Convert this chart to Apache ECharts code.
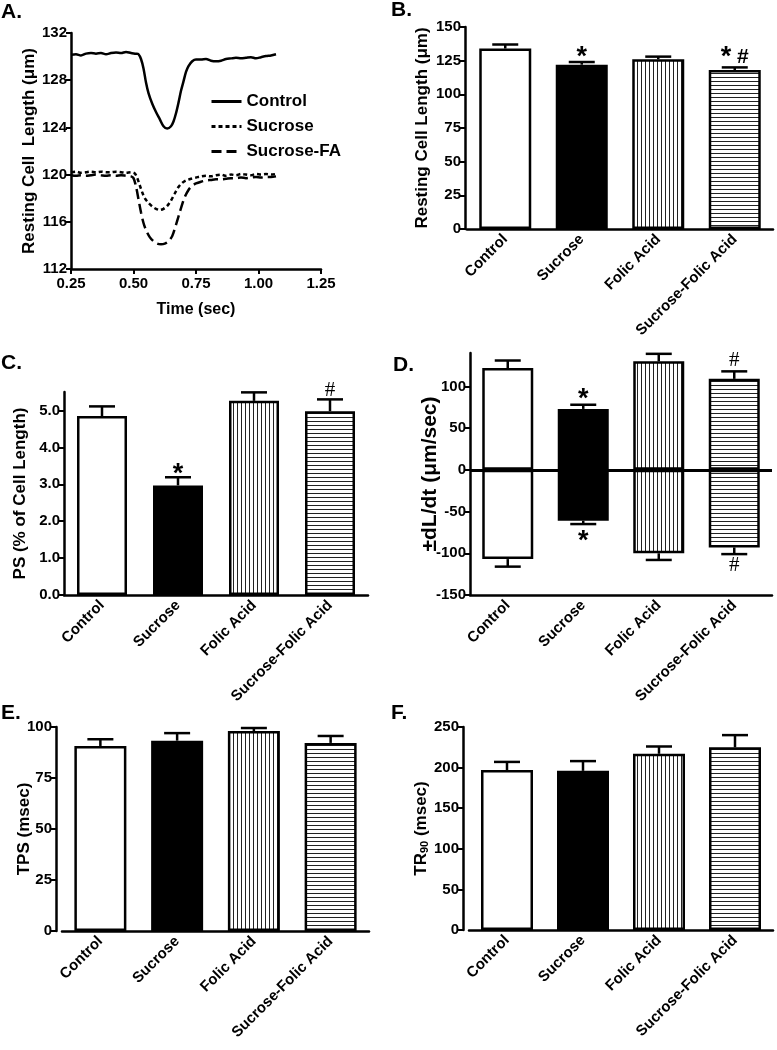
<!DOCTYPE html>
<html>
<head>
<meta charset="utf-8">
<script src="https://cdn.jsdelivr.net/npm/echarts@6/dist/echarts.min.js"></script>
<style>html,body{margin:0;padding:0;background:#fff;}#c{width:777px;height:1050px;}</style>
</head>
<body>
<div id="c"></div>
<script>
// ---------- DATA ----------
const categories = ['Control', 'Sucrose', 'Folic Acid', 'Sucrose-Folic Acid'];

// Panel A traces [time (sec), length (um)]
const traceControl = [[0.25,130.15],[0.27,130.2],[0.29,130.1],[0.31,130.25],[0.33,130.3],[0.35,130.25],[0.37,130.3],[0.39,130.2],[0.41,130.3],[0.43,130.35],[0.45,130.3],[0.47,130.4],[0.49,130.3],[0.51,130.25],[0.52,130.2],[0.53,129.8],[0.54,129.0],[0.55,127.8],[0.56,126.9],[0.575,126.0],[0.59,125.3],[0.605,124.7],[0.62,124.1],[0.635,123.9],[0.65,124.1],[0.66,124.5],[0.67,125.2],[0.68,126.1],[0.69,127.1],[0.70,127.9],[0.71,128.7],[0.72,129.2],[0.735,129.6],[0.75,129.75],[0.77,129.75],[0.79,129.8],[0.81,129.65],[0.83,129.6],[0.85,129.65],[0.87,129.8],[0.89,129.85],[0.91,129.9],[0.93,129.85],[0.95,129.9],[0.97,129.95],[0.99,129.85],[1.01,129.95],[1.03,130.05],[1.05,130.1],[1.07,130.2]];
const traceSucrose = [[0.25,120.2],[0.27,120.25],[0.29,120.15],[0.31,120.2],[0.33,120.25],[0.35,120.2],[0.37,120.25],[0.39,120.2],[0.41,120.2],[0.43,120.25],[0.45,120.2],[0.47,120.15],[0.49,120.2],[0.505,120.1],[0.515,119.7],[0.525,119.1],[0.535,118.5],[0.545,118.0],[0.56,117.6],[0.575,117.3],[0.59,117.1],[0.605,117.0],[0.62,117.1],[0.635,117.35],[0.65,117.8],[0.665,118.4],[0.68,118.95],[0.695,119.3],[0.71,119.5],[0.73,119.65],[0.75,119.75],[0.77,119.85],[0.79,119.9],[0.81,119.85],[0.83,119.95],[0.85,120.0],[0.87,119.9],[0.89,120.0],[0.91,119.95],[0.93,120.05],[0.95,120.0],[0.97,119.95],[0.99,120.05],[1.01,120.0],[1.03,120.05],[1.05,120.0],[1.07,120.05]];
const traceSucroseFA = [[0.25,119.95],[0.27,119.9],[0.29,119.95],[0.31,119.9],[0.33,119.95],[0.35,120.0],[0.37,119.95],[0.39,119.9],[0.41,119.95],[0.43,119.9],[0.45,119.95],[0.47,119.9],[0.49,119.85],[0.50,119.7],[0.51,119.0],[0.52,117.9],[0.53,116.8],[0.54,115.9],[0.55,115.3],[0.565,114.7],[0.58,114.35],[0.595,114.15],[0.61,114.1],[0.625,114.15],[0.64,114.35],[0.655,114.8],[0.665,115.4],[0.675,116.1],[0.685,116.8],[0.695,117.5],[0.705,118.1],[0.72,118.7],[0.735,119.05],[0.75,119.25],[0.77,119.4],[0.79,119.5],[0.81,119.55],[0.83,119.6],[0.85,119.6],[0.87,119.65],[0.89,119.7],[0.91,119.7],[0.93,119.75],[0.95,119.7],[0.97,119.75],[0.99,119.8],[1.01,119.75],[1.03,119.8],[1.05,119.8],[1.07,119.85]];
const aXTicks = [0.25, 0.50, 0.75, 1.00, 1.25];
const aYTicks = [112, 116, 120, 124, 128, 132];
const traceNames = ['Control', 'Sucrose', 'Sucrose-FA'];

// Panel B: resting cell length
const bValues = [134, 122, 126, 118];
const bErr = [3, 2, 2, 2];
const bMarks = ['', '*', '', '* #'];
const bTicks = [0, 25, 50, 75, 100, 125, 150];

// Panel C: PS (% of cell length)
const cValues = [4.85, 2.97, 5.26, 4.98];
const cErr = [0.26, 0.22, 0.23, 0.32];
const cMarks = ['', '*', '', '#'];
const cTicks = [0, 1, 2, 3, 4, 5];

// Panel D: +/- dL/dt
const dPos = [122, 73, 130, 109];
const dPosErr = [9, 5, 9, 9];
const dPosMarks = ['', '*', '', '#'];
const dNeg = [-107, -61, -100, -93];
const dNegErr = [9, 4, 8, 8];
const dNegMarks = ['', '*', '', '#'];
const dTicks = [-150, -100, -50, 0, 50, 100];

// Panel E: TPS (msec)
const eValues = [90.7, 93.3, 98, 92.2];
const eErr = [3.3, 3.7, 1.5, 3.4];
const eTicks = [0, 25, 50, 75, 100];

// Panel F: TR90 (msec)
const fValues = [197, 196, 217, 225];
const fErr = [10, 12, 9, 15];
const fTicks = [0, 50, 100, 150, 200, 250];

// ---------- STYLE HELPERS ----------
const FONT = 'Arial, "Liberation Sans", sans-serif';
function stripe(vertical) {
  const c = document.createElement('canvas');
  c.width = 4; c.height = 4;
  const g = c.getContext('2d');
  g.fillStyle = '#fff'; g.fillRect(0, 0, 4, 4);
  g.fillStyle = '#222';
  if (vertical) g.fillRect(1, 0, 1, 4); else g.fillRect(0, 1, 4, 1);
  return c;
}
const fills = ['#ffffff', '#000000', {image: stripe(true), repeat: 'repeat'}, {image: stripe(false), repeat: 'repeat'}];

function barData(vals) {
  return vals.map((v, i) => ({value: v, itemStyle: {color: fills[i]}}));
}

const richMarks = {
  sansHash: {s: {font: 'bold 27px ' + FONT, fill: '#000'}, h: {font: 'bold 21px ' + FONT}},
  serifHash: {s: {font: 'bold 27px ' + FONT}, h: {font: '21px "Liberation Serif", "DejaVu Serif", serif'}}
};

function errSeries(idx, vals, errs, marks, sign, markGap, richKey) {
  return {
    type: 'custom', xAxisIndex: idx, yAxisIndex: idx, z: 5,
    data: vals.map((v, i) => [i, v, errs[i]]),
    encode: {x: 0, y: 1},
    renderItem: function (params, api) {
      const i = api.value(0), v = api.value(1), e = api.value(2);
      const p0 = api.coord([i, v]);
      const p1 = api.coord([i, v + sign * e]);
      const children = [
        {type: 'line', shape: {x1: p0[0], y1: p0[1], x2: p1[0], y2: p1[1]}, style: {stroke: '#000', lineWidth: 2.5}},
        {type: 'line', shape: {x1: p1[0] - 13, y1: p1[1], x2: p1[0] + 13, y2: p1[1]}, style: {stroke: '#000', lineWidth: 2.5}}
      ];
      const m = marks ? marks[params.dataIndex] : '';
      if (m) {
        const txt = m.split('').map(ch => ch === '*' ? '{s|*}' : ch === '#' ? '{h|#}' : ch).join('');
        const isStarOnly = m === '*';
        children.push({
          type: 'text',
          style: {
            text: txt, rich: richMarks[richKey], x: p1[0], y: p1[1] - sign * markGap + (isStarOnly ? 6 : 0),
            align: 'center', verticalAlign: 'middle', fill: '#000', font: 'bold 21px ' + FONT
          }
        });
      }
      return {type: 'group', children: children};
    }
  };
}

function catAxis(idx, opts) {
  return Object.assign({
    type: 'category', gridIndex: idx, data: categories, boundaryGap: true,
    axisLine: {lineStyle: {color: '#000', width: 2.5}},
    axisTick: {alignWithLabel: true, length: 5, lineStyle: {color: '#000', width: 2}},
    axisLabel: {rotate: 45, color: '#000', fontFamily: FONT, fontWeight: 'bold', fontSize: 15, margin: 8, interval: 0},
    splitLine: {show: false}
  }, opts || {});
}
function valAxis(idx, min, max, ticks, name, nameGap, opts, nameSize, fmt) {
  return Object.assign({
    type: 'value', gridIndex: idx, min: min, max: max,
    name: name, nameLocation: 'middle', nameGap: nameGap, nameMoveOverlap: false,
    nameTextStyle: {color: '#000', fontFamily: FONT, fontWeight: 'bold', fontSize: nameSize || 17},
    axisLine: {show: true, lineStyle: {color: '#000', width: 2.5}},
    axisTick: {show: true, length: 5, lineStyle: {color: '#000', width: 2}, customValues: ticks},
    axisLabel: {color: '#000', fontFamily: FONT, fontWeight: 'bold', fontSize: 15, margin: 4, customValues: ticks, formatter: fmt},
    splitLine: {show: false}
  }, opts || {});
}
function barSeries(idx, vals, bw, extra) {
  return Object.assign({
    type: 'bar', xAxisIndex: idx, yAxisIndex: idx, data: barData(vals), barWidth: bw,
    itemStyle: {borderColor: '#000', borderWidth: 2.5}, silent: true, animation: false
  }, extra || {});
}

const chart = echarts.init(document.getElementById('c'), null, {renderer: 'canvas'});
const lineStyleBase = {color: '#000', width: 2.5};
const dashTypes = ['solid', [4, 3], [10, 5]];
const traces = [traceControl, traceSucrose, traceSucroseFA];

const option = {
  animation: false,
  backgroundColor: '#fff',
  title: [
    {text: 'A.', left: 1, top: 2},
    {text: 'B.', left: 391, top: 0},
    {text: 'C.', left: 1, top: 353},
    {text: 'D.', left: 393, top: 355},
    {text: 'E.', left: 1, top: 703},
    {text: 'F.', left: 391, top: 703}
  ].map(t => Object.assign(t, {textStyle: {fontFamily: FONT, fontWeight: 'bold', fontSize: 21, color: '#000'}, padding: 0})),
  legend: {
    left: 205, top: 88, orient: 'vertical', itemWidth: 30, itemHeight: 14, itemGap: 8,
    itemStyle: {opacity: 0},
    lineStyle: {width: 3},
    textStyle: {fontFamily: FONT, fontWeight: 'bold', fontSize: 17, color: '#000'},
    data: traceNames
  },
  grid: [
    {left: 71, top: 33, width: 250, height: 236},
    {left: 467, top: 27, width: 306, height: 202},
    {left: 64, top: 392, width: 304, height: 203},
    {left: 470, top: 353, width: 302, height: 242},
    {left: 62, top: 727, width: 307, height: 204},
    {left: 469, top: 727, width: 304, height: 203}
  ],
  xAxis: [
    {type: 'value', gridIndex: 0, min: 0.25, max: 1.25, interval: 0.25,
     name: 'Time (sec)', nameLocation: 'middle', nameGap: 33,
     nameTextStyle: {color: '#000', fontFamily: FONT, fontWeight: 'bold', fontSize: 16},
     axisLine: {lineStyle: {color: '#000', width: 2.5}},
     axisTick: {length: 5, lineStyle: {color: '#000', width: 2}},
     axisLabel: {color: '#000', fontFamily: FONT, fontWeight: 'bold', fontSize: 15, margin: 7, formatter: v => v.toFixed(2), customValues: aXTicks},
     splitLine: {show: false}},
    catAxis(1),
    catAxis(2),
    catAxis(3, {axisLine: {onZero: false, lineStyle: {color: '#000', width: 2.5}}}),
    catAxis(4),
    catAxis(5)
  ],
  yAxis: [
    valAxis(0, 112, 132, aYTicks, 'Resting Cell  Length (\u03bcm)', 33, {interval: 4}),
    valAxis(1, 0, 150, bTicks, 'Resting Cell Length (\u03bcm)', 34, {interval: 25, offset: 2}),
    valAxis(2, 0, 5.5, cTicks, 'PS (% of Cell Length)', 35, {}, 17, v => v.toFixed(1)),
    valAxis(3, -150, 140, dTicks, '\u00b1dL/dt (\u03bcm/sec)', 29, {}, 21),
    valAxis(4, 0, 100, eTicks, 'TPS (msec)', 23, {interval: 25, offset: 6}),
    valAxis(5, 0, 250, fTicks, 'TR{sub|90} (msec)', 33, {interval: 50, offset: 6,
      nameTextStyle: {color: '#000', fontFamily: FONT, fontWeight: 'bold', fontSize: 17,
        rich: {sub: {fontFamily: FONT, fontWeight: 'bold', fontSize: 11, verticalAlign: 'bottom', padding: [7, 0, 0, 0]}}}})
  ],
  series: traces.map((t, k) => ({
    name: traceNames[k], type: 'line', xAxisIndex: 0, yAxisIndex: 0, data: t,
    showSymbol: false, symbol: 'none', smooth: 0.3,
    lineStyle: Object.assign({}, lineStyleBase, {type: dashTypes[k]}), itemStyle: {color: '#000'}
  })).concat([
    barSeries(1, bValues, 52),
    errSeries(1, bValues, bErr, bMarks, 1, 10, 'sansHash'),

    barSeries(2, cValues, 50),
    errSeries(2, cValues, cErr, cMarks, 1, 9, 'serifHash'),

    barSeries(3, dPos, 51, {markLine: {symbol: 'none', silent: true, label: {show: false}, animation: false,
      lineStyle: {color: '#000', width: 3, type: 'solid'}, data: [{yAxis: 0}]}}),
    barSeries(3, dNeg, 51, {barGap: '-100%'}),
    errSeries(3, dPos, dPosErr, dPosMarks, 1, 11, 'serifHash'),
    errSeries(3, dNeg, dNegErr, dNegMarks, -1, 11, 'serifHash'),

    barSeries(4, eValues, 52),
    errSeries(4, eValues, eErr, null, 1, 0, 'sansHash'),

    barSeries(5, fValues, 52),
    errSeries(5, fValues, fErr, null, 1, 0, 'sansHash')
  ])
};
chart.setOption(option);
</script>
</body>
</html>
